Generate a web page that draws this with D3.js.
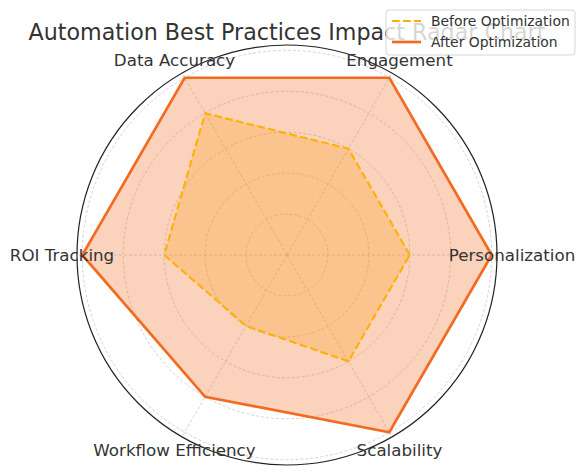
<!DOCTYPE html>
<html>
<head>
<meta charset="utf-8">
<script src="https://cdn.jsdelivr.net/npm/d3@7"></script>
<style>
  body { margin: 0; background: #fff; }
  svg text { font-family: "DejaVu Sans", sans-serif; fill: #333; }
</style>
</head>
<body>
<svg id="chart" width="585" height="476"></svg>
<script>
// chart data
const categories = ["Personalization", "Engagement", "Data Accuracy", "ROI Tracking", "Workflow Efficiency", "Scalability"];
const beforeValues = [60, 60, 80, 60, 40, 60];
const afterValues = [100, 100, 100, 100, 80, 100];
const seriesNames = ["Before Optimization", "After Optimization"];
const gridTicks = [20, 40, 60, 80, 100];

const beforeColor = "#ffb000",
      afterColor = "#f26b21";

const cx = 287, cy = 255, outerR = 210;

const svg = d3.select("#chart");

const r = d3.scaleLinear().domain([0, 102.6]).range([0, outerR]);
const angle = d3.scaleLinear().domain([0, categories.length]).range([0, 2 * Math.PI]);

// polar -> screen (theta counterclockwise from the right)
function px(i, v) { return cx + r(v) * Math.cos(angle(i)); }
function py(i, v) { return cy - r(v) * Math.sin(angle(i)); }

const g = svg.append("g");

// before drawn first, after on top
const series = [
  { name: seriesNames[0], values: beforeValues, color: beforeColor, dash: "7.7,3.3", width: 2.1, alpha: 0.25 },
  { name: seriesNames[1], values: afterValues, color: afterColor, dash: null, width: 2.7, alpha: 0.3 }
];

const line = d3.line().x(d => d[0]).y(d => d[1]).curve(d3.curveLinearClosed);

// grid circles
g.selectAll(".grid-circle")
  .data(gridTicks)
  .enter().append("circle")
    .attr("cx", cx)
    .attr("cy", cy)
    .attr("r", d => r(d))
    .attr("fill", "none")
    .attr("stroke", "#c8c8c8")
    .attr("stroke-width", 0.8)
    .attr("stroke-dasharray", "3,2");

// spokes
g.selectAll(".spoke")
  .data(categories)
  .enter().append("line")
    .attr("x1", cx)
    .attr("y1", cy)
    .attr("x2", (d, i) => cx + outerR * Math.cos(angle(i)))
    .attr("y2", (d, i) => cy - outerR * Math.sin(angle(i)))
    .attr("stroke", "#c8c8c8")
    .attr("stroke-width", 0.8)
    .attr("stroke-dasharray", "3,2");

series.forEach(s => {
  const pts = s.values.map((v, i) => [px(i, v), py(i, v)]);
  g.append("path")
    .attr("d", line(pts))
    .attr("fill", s.color)
    .attr("fill-opacity", s.alpha)
    .attr("stroke", "none");
});

series.forEach(s => {
  const pts = s.values.map((v, i) => [px(i, v), py(i, v)]);
  g.append("path")
    .attr("d", line(pts))
    .attr("fill", "none")
    .attr("stroke", s.color)
    .attr("stroke-width", s.width)
    .attr("stroke-dasharray", s.dash)
    .attr("stroke-linejoin", "miter");
});

// outer frame
g.append("circle")
  .attr("cx", cx)
  .attr("cy", cy)
  .attr("r", outerR)
  .attr("fill", "none")
  .attr("stroke", "#222")
  .attr("stroke-width", 1.2);

// category labels
g.selectAll(".cat-label")
  .data(categories)
  .enter().append("text")
    .attr("x", (d, i) => cx + (outerR + 15) * Math.cos(angle(i)))
    .attr("y", (d, i) => cy - (outerR + 15) * Math.sin(angle(i)))
    .attr("text-anchor", "middle")
    .attr("dominant-baseline", "central")
    .attr("font-size", 16.7)
    .text(d => d);

// title
svg.append("text")
  .attr("x", cx)
  .attr("y", 40)
  .attr("text-anchor", "middle")
  .attr("font-size", 22.2)
  .text("Automation Best Practices Impact Radar Chart");

// legend (semi-transparent, sits over the end of the title like the original)
const legend = svg.append("g").attr("transform", "translate(386,10)");
legend.append("rect")
  .attr("width", 189)
  .attr("height", 45)
  .attr("rx", 3)
  .attr("fill", "#fff")
  .attr("fill-opacity", 0.8)
  .attr("stroke", "#cccccc")
  .attr("stroke-width", 0.8);

const item = legend.selectAll(".item")
  .data(series)
  .enter().append("g")
    .attr("transform", (d, i) => "translate(0," + (11 + i * 21) + ")");

item.append("line")
  .attr("x1", 6)
  .attr("x2", 35)
  .attr("stroke", d => d.color)
  .attr("stroke-width", d => d.width)
  .attr("stroke-dasharray", d => d.dash);

item.append("text")
  .attr("x", 45)
  .attr("dominant-baseline", "central")
  .attr("font-size", 13.9)
  .text(d => d.name);
</script>
</body>
</html>
